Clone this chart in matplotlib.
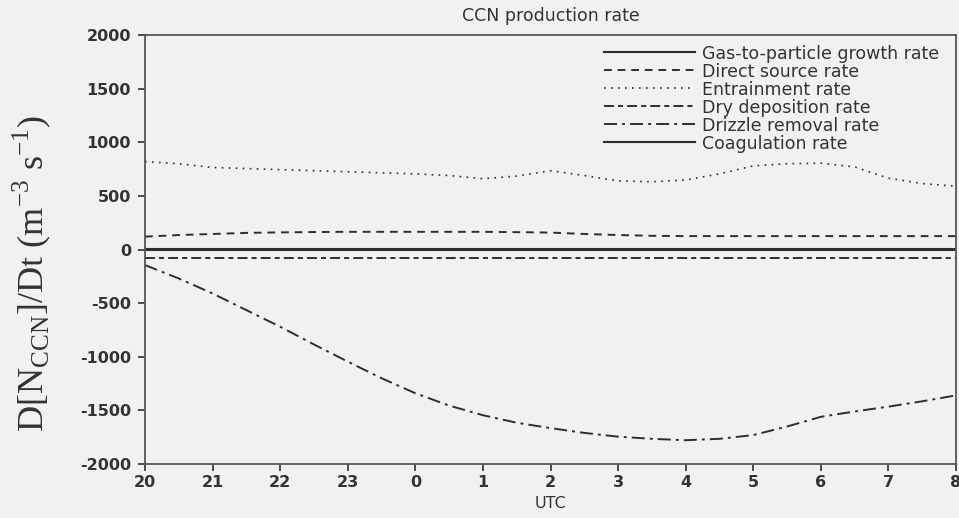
import matplotlib
matplotlib.use("Agg")
import matplotlib.pyplot as plt

# ---- data ----
hours = [20, 20.5, 21, 21.5, 22, 22.5, 23, 23.5, 24, 24.5, 25, 25.5, 26,
         26.5, 27, 27.5, 28, 28.5, 29, 29.5, 30, 30.5, 31, 31.5, 32]
tick_pos = [20, 21, 22, 23, 24, 25, 26, 27, 28, 29, 30, 31, 32]
tick_labels = ["20", "21", "22", "23", "0", "1", "2", "3", "4", "5", "6", "7", "8"]
y_ticks = [-2000, -1500, -1000, -500, 0, 500, 1000, 1500, 2000]

gas_to_particle = [5] * 25
direct_source = [120, 135, 145, 155, 160, 163, 165, 165, 165, 165, 165, 162, 158,
                 145, 135, 128, 125, 125, 125, 125, 125, 125, 125, 125, 125]
entrainment = [820, 800, 765, 755, 745, 735, 725, 715, 705, 690, 660, 685, 735,
               690, 640, 632, 648, 705, 780, 800, 805, 770, 665, 615, 590]
dry_deposition = [-80] * 25
drizzle_removal = [-145, -270, -410, -565, -720, -885, -1045, -1200, -1340, -1455,
                   -1545, -1615, -1665, -1710, -1745, -1765, -1778, -1765, -1730,
                   -1650, -1560, -1510, -1465, -1415, -1360]
coagulation = [-3] * 25

series_names = ["Gas-to-particle growth rate", "Direct source rate", "Entrainment rate",
                "Dry deposition rate", "Drizzle removal rate", "Coagulation rate"]

bg = "#f1f1ef"
ink = "#2e2e2e"
txt = "#333333"

plt.rcParams['font.family'] = ['DejaVu Sans']
plt.rcParams['axes.unicode_minus'] = False

fig = plt.figure(figsize=(9.59, 5.18), dpi=100, facecolor=bg)
ax = fig.add_axes([0.1512, 0.1042, 0.8457, 0.8282], facecolor=bg)

ax.plot(hours, gas_to_particle, color=ink, lw=1.5, ls='-', label=series_names[0])
ax.plot(hours, direct_source, color=ink, lw=1.4, ls=(0, (4, 3)), label=series_names[1])
ax.plot(hours, entrainment, color=ink, lw=1.2, ls=(0, (1, 3.2)), label=series_names[2])
ax.plot(hours, dry_deposition, color=ink, lw=1.4, ls=(0, (5.1, 2.1, 2.6, 2.1)), label=series_names[3])
ax.plot(hours, drizzle_removal, color=ink, lw=1.4, ls=(0, (6.7, 2.6, 1.5, 2.6)), label=series_names[4])
ax.plot(hours, coagulation, color=ink, lw=1.5, ls='-', label=series_names[5])

ax.set_xlim(20, 32)
ax.set_ylim(-2000, 2000)
ax.set_xticks(tick_pos)
ax.set_xticklabels(tick_labels)
ax.set_yticks(y_ticks)
ax.tick_params(direction='out', length=5, width=1.2, colors=ink, labelsize=11.5, pad=3)
ax.tick_params(axis='y', pad=5)
for lab in ax.get_xticklabels() + ax.get_yticklabels():
    lab.set_fontweight('bold')
    lab.set_color(txt)
for s in ax.spines.values():
    s.set_color('#555555')
    s.set_linewidth(1.3)

ax.set_xlabel("UTC", fontsize=11.5, color=txt, labelpad=4)
ax.set_ylabel(r"D[N$_{\mathregular{CCN}}$]/Dt (m$^{\mathregular{-3}}$ s$^{\mathregular{-1}}$)",
              fontsize=26, family=['Liberation Serif', 'DejaVu Serif'], color=txt)
ax.yaxis.set_label_coords(-0.114, 0.445)
ax.set_title("CCN production rate", fontsize=12.5, color=txt, pad=10)

leg = ax.legend(loc='upper right', bbox_to_anchor=(0.986, 0.99), frameon=False,
                prop={'family': 'DejaVu Sans', 'size': 12.5}, handlelength=5.2,
                handletextpad=0.45, labelspacing=0.0, borderpad=0.3,
                borderaxespad=0.0)
for t in leg.get_texts():
    t.set_color(txt)

fig.savefig("out.png", dpi=100, facecolor=bg)
